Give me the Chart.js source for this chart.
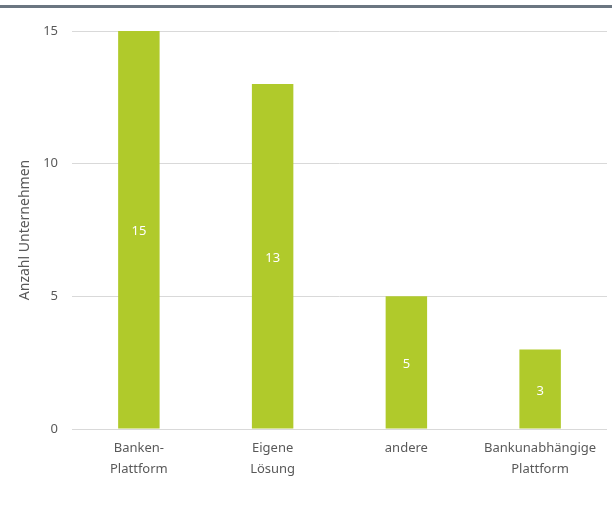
<!DOCTYPE html>
<html>
<head>
<meta charset="utf-8">
<script src="https://cdn.jsdelivr.net/npm/chart.js@4"></script>
<style>
  html, body { margin: 0; padding: 0; background: #fff; }
  #wrap { width: 612px; height: 514px; position: relative; }
</style>
</head>
<body>
<div id="wrap"><canvas id="chart" width="612" height="514"></canvas></div>
<script>
const categories = [['Banken-', 'Plattform'], ['Eigene', 'Lösung'], 'andere', ['Bankunabhängige', 'Plattform']];
const counts = [15, 13, 5, 3];
const yTicks = [0, 5, 10, 15];
const yTitle = 'Anzahl Unternehmen';

const TEXT = '#595959';
const FONT = "'Noto Sans', sans-serif";

// dark rule across the top of the figure
const topRule = {
  id: 'topRule',
  beforeDraw(chart) {
    const ctx = chart.ctx;
    ctx.save();
    ctx.fillStyle = '#6b7681';
    ctx.fillRect(0, 5, chart.width, 3);
    ctx.restore();
  }
};

// value written in the middle of each bar
const barValues = {
  id: 'barValues',
  afterDatasetsDraw(chart) {
    const ctx = chart.ctx;
    const meta = chart.getDatasetMeta(0);
    ctx.save();
    ctx.fillStyle = '#ffffff';
    ctx.font = '13px ' + FONT;
    ctx.textAlign = 'center';
    ctx.textBaseline = 'middle';
    meta.data.forEach((bar, i) => {
      const { x, y, base } = bar.getProps(['x', 'y', 'base'], true);
      ctx.fillText(String(counts[i]), x, (y + base) / 2 + 2);
    });
    ctx.restore();
  }
};

new Chart(document.getElementById('chart'), {
  type: 'bar',
  data: {
    labels: categories,
    datasets: [{
      data: counts,
      backgroundColor: '#b0ca2b',
      borderWidth: 0,
      categoryPercentage: 1,
      barPercentage: 0.31
    }]
  },
  options: {
    responsive: false,
    animation: false,
    layout: { padding: { top: 31, right: 5, left: 0, bottom: 0 } },
    plugins: { legend: { display: false }, tooltip: { enabled: false } },
    scales: {
      x: {
        grid: { display: false },
        border: { display: false },
        ticks: { color: TEXT, font: { family: FONT, size: 13, lineHeight: 1.6 }, padding: 1, maxRotation: 0 },
        afterFit(scale) { scale.height = 85; }
      },
      y: {
        min: 0,
        max: 15,
        afterBuildTicks(scale) { scale.ticks = yTicks.map(v => ({ value: v })); },
        grid: { color: '#d9d9d9', drawTicks: false },
        border: { display: false },
        ticks: { color: TEXT, font: { family: FONT, size: 13 }, padding: 14 },
        title: { display: true, text: yTitle, color: TEXT, font: { family: FONT, size: 14 }, padding: { top: 17, bottom: 0 } },
        afterFit(scale) { scale.width = 72; }
      }
    }
  },
  plugins: [topRule, barValues]
});
</script>
</body>
</html>
